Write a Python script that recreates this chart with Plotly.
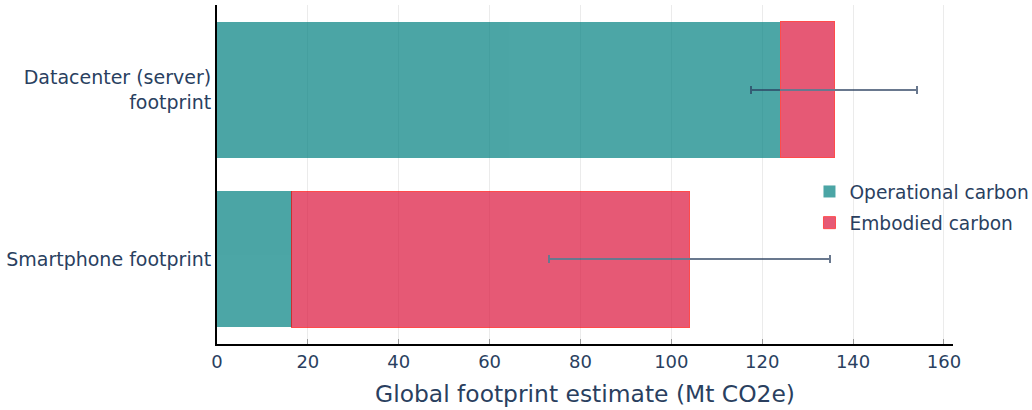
import plotly.graph_objects as go

# Categories (bottom to top) and carbon footprint components, Mt CO2e
categories = ["Smartphone footprint", "Datacenter (server)<br>footprint"]
operational = [16.5, 124.0]
embodied = [87.5, 12.0]
err_plus = [31.0, 18.0]
err_minus = [31.0, 18.5]

FONT = "DejaVu Sans, Verdana, sans-serif"
TEXT = "#2a3f5f"

fig = go.Figure()
fig.add_trace(go.Bar(
    y=categories, x=operational, orientation="h", name="Operational carbon",
    legendgroup="op",
    marker=dict(color="teal", line=dict(width=0)), opacity=0.7,
))
fig.add_trace(go.Bar(
    y=categories, x=embodied, orientation="h", name="Embodied carbon",
    legendgroup="emb",
    marker=dict(color="crimson", line=dict(color="red", width=1)), opacity=0.7,
    error_x=dict(type="data", array=err_plus, arrayminus=err_minus,
                 color=TEXT, thickness=2, width=4),
))

fig.update_layout(
    barmode="stack",
    width=1032, height=410,
    margin=dict(l=217, r=79, t=5, b=66, autoexpand=False),
    paper_bgcolor="white", plot_bgcolor="white",
    font=dict(family=FONT, color=TEXT, size=18),
    legend=dict(x=0.805, y=0.403, xanchor="left", yanchor="middle",
                traceorder="grouped", tracegroupgap=4,
                bgcolor="rgba(0,0,0,0)", font=dict(size=18.6)),
    xaxis=dict(
        range=[0, 162], dtick=20,
        title=dict(text="Global footprint estimate (Mt CO2e)", font=dict(size=23.4)),
        showline=True, linecolor="black", linewidth=2,
        ticks="inside", ticklen=5, tickcolor="#999999", tickwidth=1,
        showgrid=True, gridcolor="#ebebeb", gridwidth=1,
        zeroline=False, tickfont=dict(size=18),
    ),
    yaxis=dict(
        showline=True, linecolor="black", linewidth=2,
        showgrid=False, zeroline=False, ticks="", tickfont=dict(size=19),
    ),
)

fig.write_html("out.html")
